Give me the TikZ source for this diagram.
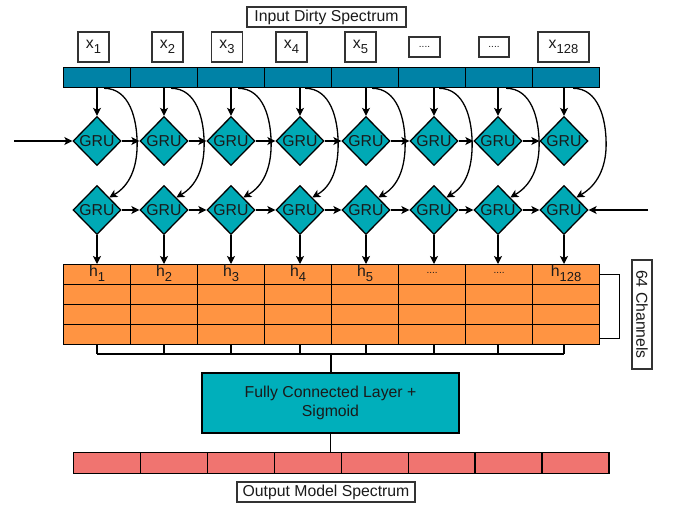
\documentclass[tikz,border=0pt]{standalone}
\usepackage{fontspec}
\setmainfont{Liberation Sans}
\usetikzlibrary{shapes.geometric,arrows.meta}

\definecolor{barblue}{HTML}{0082A6}
\definecolor{gruteal}{HTML}{00A9B5}
\definecolor{fcteal}{HTML}{00AFBB}
\definecolor{hidorange}{HTML}{FF9442}
\definecolor{outsalmon}{HTML}{F07470}
\definecolor{framegray}{HTML}{333333}
\definecolor{inkdark}{HTML}{1A1A1A}

% lowered, slightly smaller index
\newcommand{\mysub}[1]{\raisebox{-4.5pt}{\fontsize{13}{13}\selectfont #1}}
\newcommand{\smalldots}{{\fontsize{10}{10}\selectfont ....}}

\begin{document}
\begin{tikzpicture}[x=1pt,y=-1pt,
  font=\fontsize{15.8}{19.5}\selectfont, text=inkdark,
  line width=1.3pt,
  >={Stealth[length=8pt,width=8pt,inset=2pt]},
  bluecell/.style={draw=black, fill=barblue, minimum width=67pt, minimum height=20pt, inner sep=0pt, anchor=north west},
  orcell/.style={draw=black, fill=hidorange, minimum width=67pt, minimum height=20pt, inner sep=0pt, anchor=north west},
  outcell/.style={draw=black, fill=outsalmon, minimum width=66.9pt, minimum height=21pt, inner sep=0pt, anchor=north west},
  gru/.style={diamond, draw=black, fill=gruteal, minimum width=48pt, minimum height=49pt, inner sep=0pt, shape aspect=1},
  tagbox/.style={draw=framegray, fill=white, inner sep=0pt, line width=1.2pt},
  link/.style={line width=1.2pt}
]
\useasboundingbox (0,0) rectangle (673,506);

% title of the input
\node[tagbox, minimum width=159pt, minimum height=20pt] (intitle) at (326.5,17) {Input Dirty Spectrum};

% input sample labels
\node[tagbox, minimum width=31pt, minimum height=30pt] (x1) at (93.5,47) {x\mysub{1}};
\node[tagbox, minimum width=31pt, minimum height=30pt] (x2) at (167.5,47) {x\mysub{2}};
\node[tagbox, minimum width=31pt, minimum height=30pt] (x3) at (227,47) {x\mysub{3}};
\node[tagbox, minimum width=31pt, minimum height=30pt] (x4) at (291.5,47) {x\mysub{4}};
\node[tagbox, minimum width=31pt, minimum height=30pt] (x5) at (360.5,47) {x\mysub{5}};
\node[tagbox, minimum width=31pt, minimum height=20pt] (x6) at (424.5,47) {\smalldots};
\node[tagbox, minimum width=30pt, minimum height=20pt] (x7) at (494,47) {\smalldots};
\node[tagbox, minimum width=51pt, minimum height=30pt] (x8) at (563.5,47) {x\mysub{128}};

% input spectrum bar
\foreach \i in {1,...,8}
  \node[bluecell] (b\i) at ({63+67*(\i-1)},67) {};

% hidden state grid (4 rows x 8 columns)
\foreach \r in {1,...,4}
  \foreach \i in {1,...,8}
    \node[orcell] (o\r-\i) at ({63+67*(\i-1)},{264+20*(\r-1)}) {};
\foreach \i/\t in {1/h\mysub{1},2/h\mysub{2},3/h\mysub{3},4/h\mysub{4},5/h\mysub{5},6/\smalldots,7/\smalldots,8/h\mysub{128}}
  \node[inner sep=0pt] (hl\i) at ([yshift=1.5pt]o1-\i.center) {\t};

% two GRU rows
\foreach \i/\x in {1/97,2/164,3/231,4/300,5/366,6/434,7/498,8/564} {
  \node[gru] (ga\i) at (\x,141) {GRU};
  \node[gru] (gb\i) at (\x,210) {GRU};
}

\coordinate (inL) at (14,141);
\coordinate (inR) at (648,210);
\draw[->] (inL) -- (ga1.west);
\draw[->] (inR) -- (gb8.east);

\foreach \i in {1,...,7} {
  \pgfmathtruncatemacro{\j}{\i+1}
  \draw[->] (ga\i.east) -- (ga\j.west);
  \draw[->] (gb\i.east) -- (gb\j.west);
}

\foreach \i in {1,...,8} {
  \draw[->] (ga\i |- b\i.south) -- (ga\i.north);
  \draw[->] ([xshift=7pt]b\i.south) to[out=0,in=90] ([xshift=40pt,yshift=-56pt]b\i.south)
            to[out=-90,in=30] (gb\i.north east);
  \draw[->] (gb\i.south) -- (gb\i |- o1-\i.north);
}

% channel bracket and label
\draw[link] (o1-8.east) -- ++(19,0) |- ([yshift=-4pt]o4-8.east);
\node[tagbox, rotate=-90, minimum width=109pt, minimum height=20pt] (chan) at (642,314.5) {64 Channels};

% fully connected stage
\node[draw=black, fill=fcteal, minimum width=257pt, minimum height=60pt, inner sep=0pt, align=center] (fc) at (330.5,403)
  {Fully Connected Layer +\\Sigmoid};

\coordinate (busL) at (97,354);
\coordinate (busR) at (564,354);
\foreach \i in {1,...,8}
  \draw[link] (gb\i |- o4-\i.south) -- (gb\i |- busL);
\draw[link] (busL) -- (busR);
\draw[line width=2pt] (fc.north) -- (fc.north |- busL);

% output spectrum bar
\foreach \i in {1,...,8}
  \node[outcell] (s\i) at ({73+66.9*(\i-1)},452) {};
\draw[link] (fc.south) -- (fc.south |- s4.north);

\node[tagbox, minimum width=178pt, minimum height=20pt] (outtitle) at (326,492) {Output Model Spectrum};
\end{tikzpicture}
\end{document}
